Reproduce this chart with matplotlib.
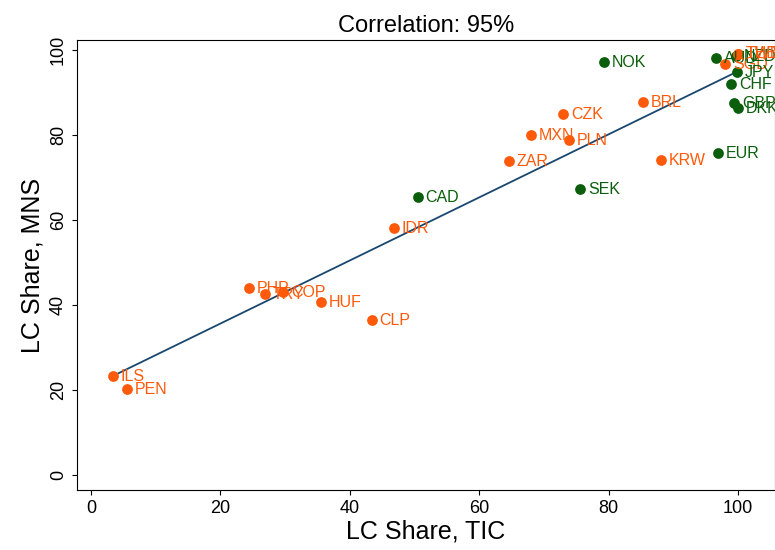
import numpy as np
import matplotlib
matplotlib.use("Agg")
import matplotlib.pyplot as plt
plt.rcParams['font.family'] = ['Liberation Sans', 'DejaVu Sans']

labels = ["ILS","PEN","PHP","TRY","COP","HUF","CLP","IDR","CAD","ZAR","MXN","CZK","PLN","SEK","NOK","BRL","KRW","EUR","AUD","SGD","JPY","CHF","GBP","DKK","NZD","THB","TWD"]
tic = [3.4,5.6,24.4,26.9,29.7,35.5,43.4,46.8,50.5,64.6,68.0,73.0,73.9,75.6,79.3,85.3,88.1,96.9,96.6,98.0,99.8,98.9,99.4,100.0,99.7,100.0,100.0]
mns = [23.3,20.2,44.0,42.6,43.1,40.7,36.5,58.1,65.4,73.9,80.0,84.9,78.8,67.3,97.2,87.8,74.1,75.8,98.1,96.7,94.8,92.0,87.5,86.4,98.6,99.2,99.2]
advanced = {"CAD","SEK","NOK","EUR","AUD","JPY","CHF","GBP","DKK","NZD"}

GREEN = "#0b5e0b"; ORANGE = "#ff5a0a"
fig = plt.figure(figsize=(7.75,5.5), dpi=100)
ax = fig.add_axes([0.099,0.109,0.901,0.818])
for l,x,y in zip(labels,tic,mns):
    c = GREEN if l in advanced else ORANGE
    ax.scatter(x,y,s=60,color=c,zorder=3,linewidths=0)
    ax.text(x+1.2,y,l,color=c,fontsize=11.5,va="center",ha="left",zorder=4)
b,a = np.polyfit(tic,mns,1)
xs = np.array([min(tic),100])
ax.plot(xs,a+b*xs,color="#1a476f",lw=1.3,zorder=2)
ax.set_xlim(-2.2,105.7); ax.set_ylim(-3.5,102.4)
ax.set_xticks([0,20,40,60,80,100]); ax.set_yticks([0,20,40,60,80,100])
ax.tick_params(labelsize=13)
for t in ax.get_yticklabels():
    t.set_rotation(90); t.set_va("center")
ax.set_xlabel("LC Share, TIC",fontsize=18,labelpad=2)
ax.set_ylabel("LC Share, MNS",fontsize=18)
ax.set_title("Correlation: 95%",fontsize=17,pad=6)
fig.savefig("out.png",dpi=100)
